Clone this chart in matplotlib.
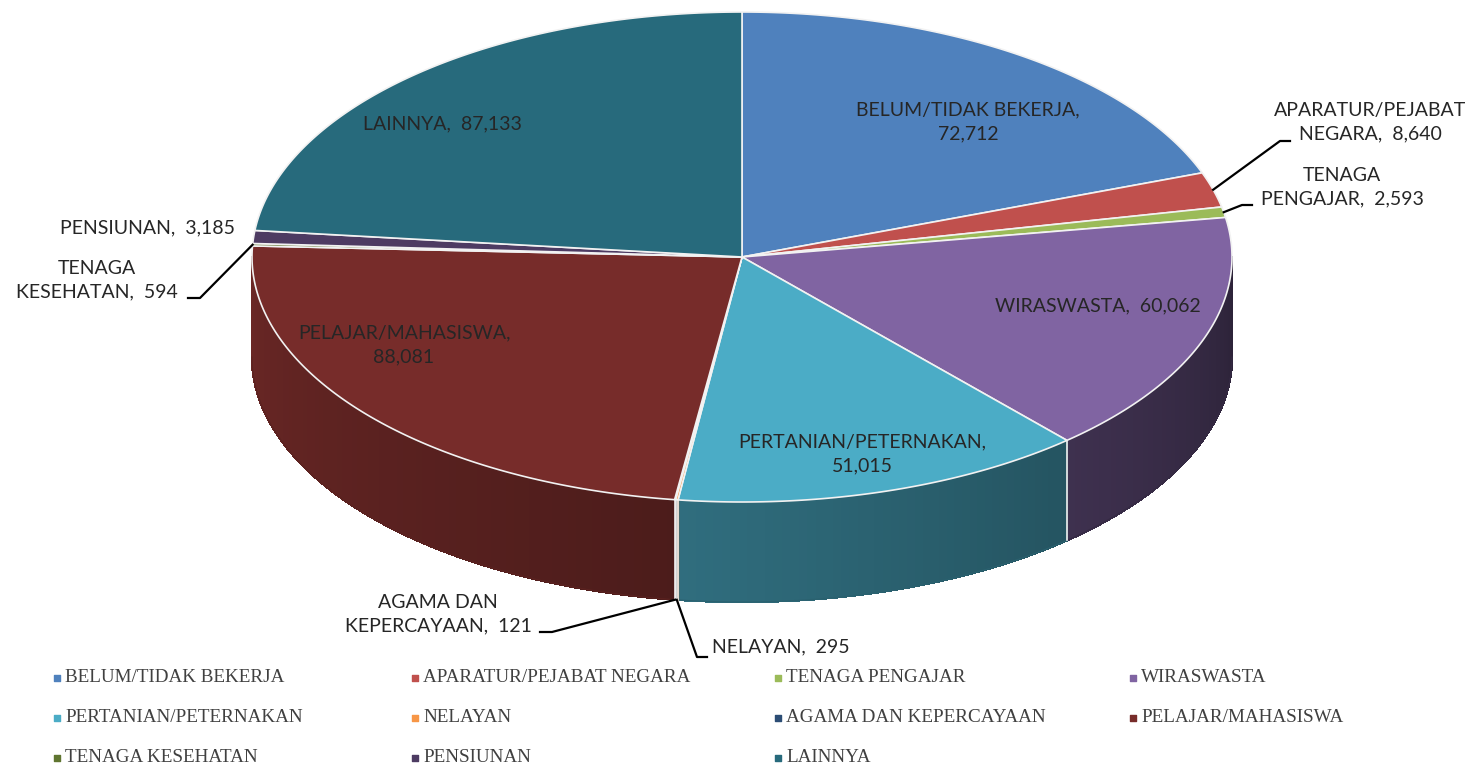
import numpy as np
import matplotlib.pyplot as plt
from matplotlib.collections import PolyCollection
from matplotlib.colors import to_rgb

# data (clockwise from 12 o'clock)
categories = ['BELUM/TIDAK BEKERJA', 'APARATUR/PEJABAT NEGARA', 'TENAGA PENGAJAR',
              'WIRASWASTA', 'PERTANIAN/PETERNAKAN', 'NELAYAN', 'AGAMA DAN KEPERCAYAAN',
              'PELAJAR/MAHASISWA', 'TENAGA KESEHATAN', 'PENSIUNAN', 'LAINNYA']
values = [72712, 8640, 2593, 60062, 51015, 295, 121, 88081, 594, 3185, 87133]
colors = ['#4f81bd', '#c0504d', '#9bbb59', '#8064a2', '#4bacc6', '#f79646',
          '#2c4d75', '#772c2a', '#5f7530', '#4d3b62', '#276a7c']

# how the data labels are broken over lines
label_names = ['BELUM/TIDAK BEKERJA', 'APARATUR/PEJABAT\nNEGARA', 'TENAGA\nPENGAJAR',
               'WIRASWASTA', 'PERTANIAN/PETERNAKAN', 'NELAYAN', 'AGAMA DAN\nKEPERCAYAAN',
               'PELAJAR/MAHASISWA', 'TENAGA\nKESEHATAN', 'PENSIUNAN', 'LAINNYA']
label_seps = [',\n', ',  ', ',  ', ',  ', ',\n', ',  ', ',  ', ',\n', ',  ', ',  ', ',  ']

# layout (pixels)
W, H = 1478, 768
cx, cy, rx, ry, depth = 742, 257, 490, 245, 100
label_pos = [(968, 122), (1370, 122), (1342, 187), (1098, 306), (862, 454), (781, 647),
             (438, 614), (404, 345), (97, 280), (147, 228), (442, 124)]
# elbow points of the leader lines, None = no leader
leaders = [None, [(1280, 141), (1290, 141)], [(1242, 205), (1252, 205)], None, None,
           [(697, 657), (707, 657)], [(552, 632), (540, 632)], None,
           [(200, 298), (188, 298)], None, None]


def pt(theta, dz=0):
    t = np.radians(theta)
    return cx + rx * np.sin(t), cy - ry * np.cos(t) + dz


def shade(theta):
    return 0.34 + 0.55 * (theta - 90) / 180


fig = plt.figure(figsize=(W / 100, H / 100), dpi=100)
ax = fig.add_axes([0, 0, 1, 1])
ax.set_xlim(0, W)
ax.set_ylim(H, 0)
ax.axis('off')

vals = np.array(values, float)
edges = np.concatenate([[0], np.cumsum(vals)]) / vals.sum() * 360

# side walls (only the front half shows)
for i, c in enumerate(colors):
    a0, a1 = max(edges[i], 90), min(edges[i + 1], 270)
    if a1 <= a0:
        continue
    ts = np.linspace(a0, a1, max(2, int(a1 - a0) + 1))
    rgb = np.array(to_rgb(c))
    polys, fcs = [], []
    for t0, t1 in zip(ts[:-1], ts[1:]):
        polys.append([pt(t0), pt(t1), pt(t1, depth), pt(t0, depth)])
        fcs.append(np.clip(rgb * shade((t0 + t1) / 2), 0, 1))
    ax.add_collection(PolyCollection(polys, facecolors=fcs, edgecolors=fcs,
                                     linewidths=1.0, antialiaseds=False, zorder=1))
    # smooth outline of the wall
    bx, by = pt(ts, depth)
    ax.plot(bx, by, color=fcs[len(fcs) // 2], lw=0.8, zorder=1)

for a in edges:
    if 90 < a < 270:
        x0, y0 = pt(a)
        ax.plot([x0, x0], [y0, y0 + depth], color='#f2f2f2', lw=1.2, zorder=2)

# top face
for i, c in enumerate(colors):
    ts = np.linspace(edges[i], edges[i + 1], max(2, int((edges[i + 1] - edges[i]) * 2) + 1))
    xs, ys = pt(ts)
    ax.fill(np.r_[cx, xs], np.r_[cy, ys], facecolor=c, edgecolor='#f2f2f2',
            lw=1.2, joinstyle='round', zorder=3)

# data labels
for i, name in enumerate(label_names):
    txt = f'{name}{label_seps[i]}{values[i]:,}'
    x, y = label_pos[i]
    ax.text(x, y, txt, ha='center', va='center', multialignment='center',
            fontsize=14, family='Lato', color='#262626', linespacing=1.45, zorder=5)
    if leaders[i] is not None:
        mid = (edges[i] + edges[i + 1]) / 2
        start = pt(mid, depth if 90 < mid < 270 else 0)
        px = [start[0]] + [p[0] for p in leaders[i]]
        py = [start[1]] + [p[1] for p in leaders[i]]
        ax.plot(px, py, color='black', lw=1.6, zorder=4)

# legend
col_x = [57, 415, 778, 1133]
row_y = [678, 718, 758]
for i, name in enumerate(categories):
    x, y = col_x[i % 4], row_y[i // 4]
    ax.scatter([x], [y], marker='s', s=18, color=colors[i], zorder=5)
    ax.text(x + 8, y, name, ha='left', va='center', fontsize=13.8,
            family='Liberation Serif', color='#404040')

fig.savefig('out.png', dpi=100)
